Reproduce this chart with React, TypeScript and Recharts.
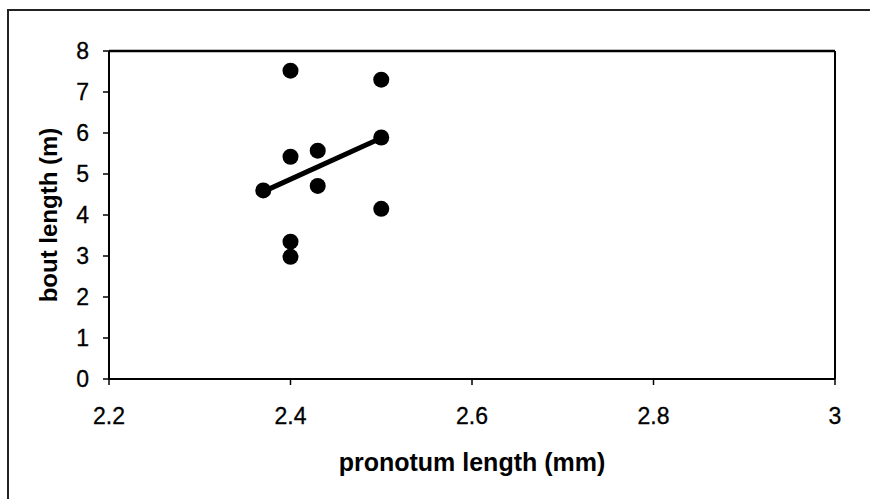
import React from 'react';
import { ScatterChart, Scatter, XAxis, YAxis, ReferenceLine, Label } from 'recharts';

// pronotum length (mm) vs bout length (m)
const pronotum = [2.37, 2.4, 2.4, 2.4, 2.4, 2.43, 2.43, 2.5, 2.5, 2.5];
const bout = [4.6, 7.52, 5.42, 3.35, 2.98, 5.57, 4.71, 7.3, 5.89, 4.15];

// fitted line end points
const fitX = [2.37, 2.5];
const fitY = [4.57, 5.88];

const xTicks = [2.2, 2.4, 2.6, 2.8, 3];
const yTicks = [0, 1, 2, 3, 4, 5, 6, 7, 8];

const points = pronotum.map((x, i) => ({ x, y: bout[i] }));
const fit = fitX.map((x, i) => ({ x, y: fitY[i] }));

const font = '"Liberation Sans", Arial, sans-serif';
const tickStyle = { fontFamily: font, fontSize: 23, fill: '#000', stroke: '#000', strokeWidth: 0.3 };

const Dot = (props: any) => <circle cx={props.cx} cy={props.cy} r={8} fill="#000" />;
const NoDot = () => <g />;

export default function App() {
  return (
    <div style={{ position: 'absolute', left: 0, top: 0, width: 870, height: 499, overflow: 'hidden', background: '#fff' }}>
      <div
        style={{
          position: 'absolute',
          left: 7,
          top: 9,
          width: 900,
          height: 600,
          border: '2px solid #222',
        }}
      />
      <ScatterChart
        width={870}
        height={499}
        margin={{ top: 51, right: 35, bottom: 0, left: 0 }}
        style={{ position: 'absolute', left: 0, top: 0 }}
      >
        <XAxis
          type="number"
          dataKey="x"
          domain={[2.2, 3]}
          ticks={xTicks}
          height={120}
          tick={tickStyle}
          tickSize={6}
          tickMargin={23}
          axisLine={{ stroke: '#000', strokeWidth: 2 }}
          tickLine={{ stroke: '#000', strokeWidth: 1.5 }}
          allowDataOverflow
        >
          <Label
            content={(p: any) => (
              <text
                x={p.viewBox.x + p.viewBox.width / 2}
                y={462}
                textAnchor="middle"
                dominantBaseline="central"
                fontFamily={font}
                fontWeight="bold"
                fontSize={25}
                fill="#000"
              >
                pronotum length (mm)
              </text>
            )}
          />
        </XAxis>
        <YAxis
          type="number"
          dataKey="y"
          domain={[0, 8]}
          ticks={yTicks}
          width={109}
          tick={tickStyle}
          tickSize={6}
          tickMargin={14}
          axisLine={{ stroke: '#000', strokeWidth: 2 }}
          tickLine={{ stroke: '#000', strokeWidth: 1.5 }}
          allowDataOverflow
        >
          <Label
            content={(p: any) => {
              const cy = p.viewBox.y + p.viewBox.height / 2;
              return (
                <text
                  x={48}
                  y={cy}
                  transform={`rotate(-90, 48, ${cy})`}
                  textAnchor="middle"
                  dominantBaseline="central"
                  fontFamily={font}
                  fontWeight="bold"
                  fontSize={24}
                  fill="#000"
                >
                  bout length (m)
                </text>
              );
            }}
          />
        </YAxis>
        <ReferenceLine y={8} stroke="#000" strokeWidth={2.5} />
        <ReferenceLine x={3} stroke="#000" strokeWidth={2} />
        <Scatter data={fit} line={{ stroke: '#000', strokeWidth: 5 }} shape={NoDot} isAnimationActive={false} />
        <Scatter data={points} shape={Dot} isAnimationActive={false} />
      </ScatterChart>
    </div>
  );
}
